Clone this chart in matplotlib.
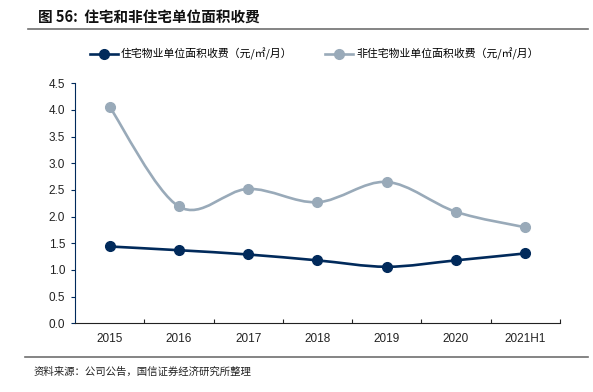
import matplotlib
matplotlib.use('Agg')
import matplotlib.pyplot as plt
from matplotlib.path import Path
from matplotlib.patches import PathPatch
from matplotlib.lines import Line2D

plt.rcParams['font.family'] = ['Liberation Sans', 'Noto Sans CJK SC', 'DejaVu Sans']

# data
categories = ['2015', '2016', '2017', '2018', '2019', '2020', '2021H1']
residential = [1.44, 1.37, 1.29, 1.18, 1.06, 1.18, 1.31]
nonResidential = [4.06, 2.19, 2.52, 2.27, 2.65, 2.09, 1.80]
yticks = [0.0, 0.5, 1.0, 1.5, 2.0, 2.5, 3.0, 3.5, 4.0, 4.5]

darkColor = '#012a5b'
lightColor = '#99aab9'
cjk = ['Noto Sans CJK SC', 'DejaVu Sans']

def smoothPath(xs, ys):
    #Excel style smoothed line as cubic bezier segments through the points
    pts = list(zip(xs, ys))
    verts = [pts[0]]
    codes = [Path.MOVETO]
    n = len(pts)
    for i in range(n - 1):
        p0 = pts[i - 1] if i > 0 else pts[i]
        p1 = pts[i]
        p2 = pts[i + 1]
        p3 = pts[i + 2] if i + 2 < n else pts[i + 1]
        c1 = (p1[0] + (p2[0] - p0[0]) / 6, p1[1] + (p2[1] - p0[1]) / 6)
        c2 = (p2[0] - (p3[0] - p1[0]) / 6, p2[1] - (p3[1] - p1[1]) / 6)
        verts += [c1, c2, p2]
        codes += [Path.CURVE4] * 3
    return Path(verts, codes)

fig = plt.figure(figsize=(5.93, 3.92), dpi=100)
ax = fig.add_axes([0.1265, 0.1753, 0.8175, 0.6122])

xs = list(range(len(categories)))
for series, color in [(nonResidential, lightColor), (residential, darkColor)]:
    ax.add_patch(PathPatch(smoothPath(xs, series), facecolor='none', edgecolor=color, linewidth=1.9, zorder=3))
    ax.plot(xs, series, linestyle='none', marker='o', markersize=7, color=color, zorder=4)

ax.set_xlim(-0.5, len(categories) - 0.5)
ax.set_ylim(0, 4.5)
ax.set_yticks(yticks)
ax.set_yticklabels([f'{v:.1f}' for v in yticks], fontsize=8.5, color='#222222')
ax.set_xticks([x + 0.5 for x in xs])
ax.set_xticklabels([])
ax.set_xticks(xs, minor=True)
ax.set_xticklabels(categories, minor=True, fontsize=8.5, color='#222222')
ax.tick_params(axis='x', which='major', direction='in', length=3, color='#222222', width=0.8)
ax.tick_params(axis='x', which='minor', length=0, pad=7)
ax.tick_params(axis='y', direction='out', length=3, color=darkColor, width=0.8, pad=4)
ax.spines['top'].set_visible(False)
ax.spines['right'].set_visible(False)
ax.spines['left'].set_color(darkColor)
ax.spines['bottom'].set_color('#222222')

#legend
handles = [Line2D([0], [0], color=darkColor, lw=1.9, marker='o', markersize=7),
           Line2D([0], [0], color=lightColor, lw=1.9, marker='o', markersize=7)]
labels = ['住宅物业单位面积收费（元/㎡/月）', '非住宅物业单位面积收费（元/㎡/月）']
fig.legend(handles, labels, loc='center', bbox_to_anchor=(0.53, 0.862), ncol=2, frameon=False,
           handlelength=2.6, handletextpad=0.3, columnspacing=3.0, prop={'family': cjk, 'size': 7.8})

#title, rules and source
fig.text(0.064, 0.958, '图 56:  住宅和非住宅单位面积收费', fontsize=10.5, fontweight='bold',
         family=cjk, va='center', ha='left', color='#111111')
fig.add_artist(Line2D([0.047, 0.992], [0.926, 0.926], color='#707070', lw=1.2))
fig.add_artist(Line2D([0.042, 0.992], [0.089, 0.089], color='#707070', lw=1.2))
fig.text(0.056, 0.051, '资料来源：公司公告，国信证券经济研究所整理', fontsize=7.5, family=cjk,
         va='center', ha='left', color='#222222')

plt.savefig('out.png', dpi=100, facecolor='white')
